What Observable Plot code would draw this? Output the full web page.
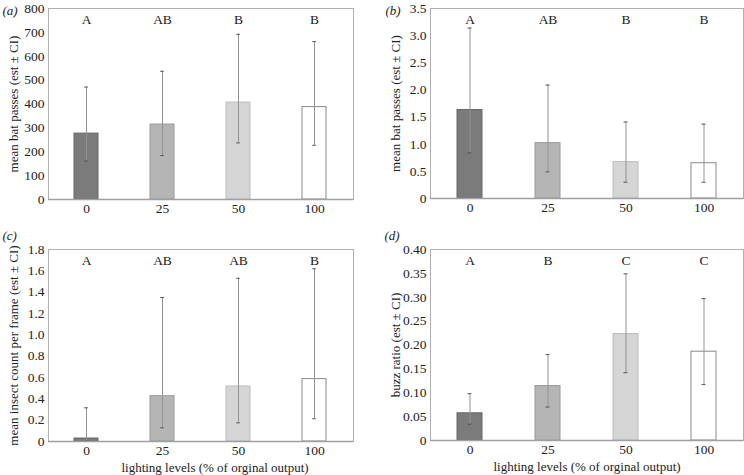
<!DOCTYPE html>
<html>
<head>
<meta charset="utf-8">
<script src="https://cdn.jsdelivr.net/npm/d3@7"></script>
<script src="https://cdn.jsdelivr.net/npm/@observablehq/plot@0.6"></script>
<style>
  body { margin: 0; background: #fff; }
  #fig { position: relative; width: 744px; height: 475px; font-family: "Liberation Serif", serif; }
  .panel { position: absolute; }
</style>
</head>
<body>
<div id="fig"></div>
<script>
// ---- data ----
const levels = ["0", "25", "50", "100"];

const batMean = [276, 314, 406, 387];
const batLo   = [161, 184, 237, 227];
const batHi   = [471, 537, 692, 661];
const batLetters = ["A", "AB", "B", "B"];

const batBMean = [1.63, 1.02, 0.67, 0.65];
const batBLo   = [0.84, 0.49, 0.30, 0.30];
const batBHi   = [3.14, 2.09, 1.41, 1.37];
const batBLetters = ["A", "AB", "B", "B"];

const insectMean = [0.028, 0.425, 0.516, 0.585];
const insectLo   = [0.004, 0.128, 0.175, 0.213];
const insectHi   = [0.316, 1.35, 1.53, 1.62];
const insectLetters = ["A", "AB", "AB", "B"];

const buzzMean = [0.057, 0.114, 0.223, 0.186];
const buzzLo   = [0.034, 0.070, 0.142, 0.117];
const buzzHi   = [0.098, 0.180, 0.349, 0.297];
const buzzLetters = ["A", "B", "C", "C"];

const ticksA = [0, 100, 200, 300, 400, 500, 600, 700, 800];
const ticksB = [0, 0.5, 1.0, 1.5, 2.0, 2.5, 3.0, 3.5];
const ticksC = [0, 0.2, 0.4, 0.6, 0.8, 1.0, 1.2, 1.4, 1.6, 1.8];
const ticksD = [0, 0.05, 0.10, 0.15, 0.20, 0.25, 0.30, 0.35, 0.40];

const fills   = ["#7b7b7b", "#b5b5b5", "#d5d5d5", "#ffffff"];
const strokes = ["#666666", "#9a9a9a", "#bdbdbd", "#8a8a8a"];

const xTitle = "lighting levels (% of orginal output)";

function rows(mean, lo, hi, letters) {
  return levels.map((l, i) => ({level: l, mean: mean[i], lo: lo[i], hi: hi[i], letter: letters[i], fill: fills[i], stroke: strokes[i]}));
}

const panels = [
  {id: "(a)", left: 0, top: 0, height: 222, mL: 48, mR: 19, mT: 8, mB: 23, idx: 2, idy: 10,
   data: rows(batMean, batLo, batHi, batLetters), ticks: ticksA, dec: 0,
   ylabel: "mean bat passes (est ± CI)", xt: false},
  {id: "(b)", left: 372, top: 0, height: 222, mL: 58, mR: 1, mT: 8, mB: 24, idx: 13, idy: 10,
   data: rows(batBMean, batBLo, batBHi, batBLetters), ticks: ticksB, dec: 1,
   ylabel: "mean bat passes (est ± CI)", xt: false},
  {id: "(c)", left: 0, top: 230, height: 245, mL: 48, mR: 19, mT: 19, mB: 34, idx: 2, idy: 5,
   data: rows(insectMean, insectLo, insectHi, insectLetters), ticks: ticksC, dec: 1,
   ylabel: "mean insect count per frame (est ± CI)", xt: true, xtdx: 14},
  {id: "(d)", left: 372, top: 230, height: 245, mL: 58, mR: 1, mT: 19, mB: 35, idx: 12, idy: 5,
   data: rows(buzzMean, buzzLo, buzzHi, buzzLetters), ticks: ticksD, dec: 2,
   ylabel: "buzz ratio (est ± CI)", xt: true, xtdx: 0}
];

const fig = document.getElementById("fig");
const W = 372;

for (const p of panels) {
  const frameW = W - p.mL - p.mR;
  const bw = frameW / 4 * 0.32;
  const capInset = (bw - 4) / 2;
  const ymax = p.ticks[p.ticks.length - 1];
  const marks = [
    Plot.barY(p.data, {x: "level", y: "mean", fill: "fill", stroke: "stroke", strokeWidth: 1}),
    Plot.ruleX(p.data, {x: "level", y1: "lo", y2: "hi", stroke: "#939393", strokeWidth: 1}),
    Plot.tickY(p.data, {x: "level", y: "lo", stroke: "#555", strokeWidth: 1, insetLeft: capInset, insetRight: capInset}),
    Plot.tickY(p.data, {x: "level", y: "hi", stroke: "#555", strokeWidth: 1, insetLeft: capInset, insetRight: capInset}),
    Plot.frame({stroke: "#b0b0b0", strokeWidth: 1}),
    Plot.ruleY([0], {stroke: "#a0a0a0", strokeWidth: 1.5}),
    Plot.axisY({ticks: p.ticks, tickSize: 0, tickPadding: 4, tickFormat: d => d === 0 ? "0" : d.toFixed(p.dec), fill: "#222", fontSize: 13.5}),
    Plot.axisX({tickSize: 0, tickPadding: 4, fill: "#222", fontSize: 13.5, label: null}),
    Plot.text(p.data, {x: "level", text: "letter", frameAnchor: "top", lineAnchor: "middle", dy: 11, fill: "#222", fontSize: 13.5}),
    Plot.text([p.ylabel], {frameAnchor: "left", textAnchor: "middle", lineAnchor: "middle", dx: -35, rotate: -90, fill: "#222", fontSize: 13}),
    Plot.text([p.id], {frameAnchor: "top-left", textAnchor: "start", lineAnchor: "middle", dx: -p.mL + p.idx, dy: p.idy - p.mT, fontStyle: "italic", fill: "#222", fontSize: 13})
  ];
  if (p.xt) {
    marks.push(Plot.text([xTitle], {frameAnchor: "bottom", lineAnchor: "middle", dx: p.xtdx, dy: 26, fill: "#222", fontSize: 13}));
  }
  const chart = Plot.plot({
    width: W,
    height: p.height,
    marginLeft: p.mL,
    marginRight: p.mR,
    marginTop: p.mT,
    marginBottom: p.mB,
    x: {domain: levels, paddingInner: 0.68, paddingOuter: 0.34, axis: null},
    y: {domain: [0, ymax], axis: null},
    style: {fontFamily: "'Liberation Serif', serif", fontSize: "13px", background: "transparent", overflow: "visible"},
    marks
  });
  const wrap = document.createElement("div");
  wrap.className = "panel";
  wrap.style.left = p.left + "px";
  wrap.style.top = p.top + "px";
  wrap.appendChild(chart);
  fig.appendChild(wrap);
}
</script>
</body>
</html>
